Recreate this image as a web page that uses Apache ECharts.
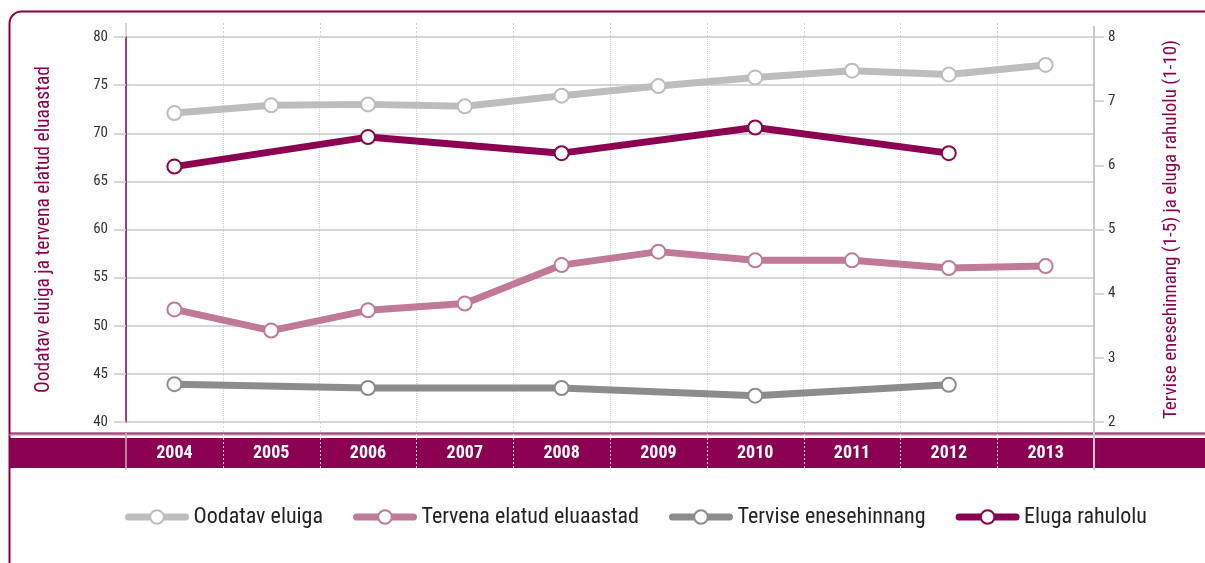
<!DOCTYPE html>
<html><head><meta charset="utf-8">
<script src="https://cdn.jsdelivr.net/npm/echarts@6/dist/echarts.min.js"></script>
<style>html,body{margin:0;padding:0;background:#fff}#c{width:1205px;height:563px}</style>
</head><body><div id="c"></div>
<script>
var years = ['2004','2005','2006','2007','2008','2009','2010','2011','2012','2013'];
var oodatavEluiga = [72.1, 72.9, 73.0, 72.8, 73.9, 74.9, 75.8, 76.5, 76.1, 77.1];
var tervenaElatud = [51.7, 49.5, 51.6, 52.3, 56.3, 57.7, 56.8, 56.8, 56.0, 56.2];
var terviseEnesehinnang = [2.59, null, 2.53, null, 2.53, null, 2.41, null, 2.58, null];
var elugaRahulolu = [5.98, null, 6.44, null, 6.19, null, 6.59, null, 6.19, null];
var seriesNames = ['Oodatav eluiga','Tervena elatud eluaastad','Tervise enesehinnang','Eluga rahulolu'];
var leftAxisName = 'Oodatav eluiga ja tervena elatud eluaastad';
var rightAxisName = 'Tervise enesehinnang (1-5) ja eluga rahulolu (1-10)';

var FONT = '"Roboto Condensed","Archivo Narrow",sans-serif';
var PURPLE = '#8b0050';
var GL = 126, GR = 1094, GT = 37, GB = 422;
var chart = echarts.init(document.getElementById('c'), null, {renderer:'canvas'});

var graphics = [];
graphics.push({type:'rect', z:-5, shape:{x:9.5,y:11.5,width:1300,height:700,r:[12,0,0,0]}, style:{fill:null, stroke:PURPLE, lineWidth:2}});
graphics.push({type:'rect', z:-5, shape:{x:9,y:432.5,width:1196,height:1.2}, style:{fill:PURPLE}});
graphics.push({type:'rect', z:-5, shape:{x:9,y:434,width:1196,height:1.5}, style:{fill:'#c07a98'}});
graphics.push({type:'rect', z:-5, shape:{x:9,y:438,width:1196,height:30}, style:{fill:PURPLE}});
var w = (GR-GL)/years.length;
for (var i=1;i<years.length;i++){
  var x = Math.round(GL + i*w)+0.5;
  graphics.push({type:'line', z:-4, shape:{x1:x,y1:23,x2:x,y2:GT}, style:{stroke:'#cfcfcf', lineWidth:1, lineDash:[2,2]}});
  graphics.push({type:'line', z:-4, shape:{x1:x,y1:GB,x2:x,y2:468}, style:{stroke:'#d8d8d8', lineWidth:1, lineDash:[2,2]}});
}
graphics.push({type:'line', z:-3, shape:{x1:GL,y1:23,x2:GL,y2:GT}, style:{stroke:'#c8c8c8', lineWidth:1.5, lineDash:null}});
graphics.push({type:'line', z:-3, shape:{x1:GL,y1:433,x2:GL,y2:470}, style:{stroke:'#b8b8b8', lineWidth:1.5, lineDash:null}});
graphics.push({type:'line', z:-3, shape:{x1:GR,y1:26,x2:GR,y2:470}, style:{stroke:'#c8c8c8', lineWidth:2, lineDash:null}});

function lineSeries(name, data, color, yIdx){
  return {
    name:name, type:'line', yAxisIndex:yIdx, data:data, connectNulls:true,
    symbol:'emptyCircle', symbolSize:14, showSymbol:true,
    lineStyle:{color:color, width:7, type:'solid', cap:'round', join:'round'},
    itemStyle:{color:color, borderColor:color, borderWidth:3, borderType:'solid'},
    emphasis:{disabled:true}, animation:false, z:5
  };
}

chart.setOption({
  animation:false,
  graphic:{elements:graphics},
  grid:{left:GL, right:1205-GR, top:GT, bottom:563-GB, containLabel:false},
  legend:{
    left:120, top:501, itemWidth:57, itemHeight:17, itemGap:30,
    lineStyle:{width:7, cap:'round'},
    itemStyle:{borderWidth:3},
    textStyle:{fontFamily:FONT, fontSize:22, color:'#222', padding:[0,0,0,3]},
    data:seriesNames
  },
  xAxis:{
    type:'category', data:years, boundaryGap:true, z:1,
    axisLine:{show:false}, axisTick:{show:false},
    axisLabel:{margin:22, color:'#fff', fontFamily:FONT, fontWeight:'bold', fontSize:18},
    splitLine:{show:true, lineStyle:{color:'#cfcfcf', type:'dotted', width:1}}
  },
  yAxis:[{
    type:'value', min:40, max:80, interval:5, position:'left', z:4,
    name:leftAxisName, nameLocation:'middle', nameRotate:90, nameGap:72,
    nameTextStyle:{color:PURPLE, fontFamily:FONT, fontSize:19.5},
    axisLine:{show:true, lineStyle:{color:PURPLE, width:1.5, type:'solid'}},
    axisTick:{show:true, inside:false, length:12, lineStyle:{color:'#c8c8c8', width:1.5, type:'solid'}},
    axisLabel:{color:'#333', fontFamily:FONT, fontSize:15, margin:18},
    splitLine:{show:true, lineStyle:{color:'#c8c8c8', width:1.5, type:'solid'}}
  },{
    type:'value', min:2, max:8, interval:1, position:'right', z:4,
    name:rightAxisName, nameLocation:'middle', nameRotate:90, nameGap:68,
    nameTextStyle:{color:PURPLE, fontFamily:FONT, fontSize:19},
    axisLine:{show:true, lineStyle:{color:'#c8c8c8', width:2, type:'solid'}},
    axisTick:{show:true, inside:false, length:10, lineStyle:{color:'#c8c8c8', width:1.5, type:'solid'}},
    axisLabel:{color:'#333', fontFamily:FONT, fontSize:15, margin:14},
    splitLine:{show:false}
  }],
  series:[
    lineSeries(seriesNames[0], oodatavEluiga, '#bdbdbd', 0),
    lineSeries(seriesNames[1], tervenaElatud, '#c07a98', 0),
    lineSeries(seriesNames[2], terviseEnesehinnang, '#8c8c8c', 1),
    lineSeries(seriesNames[3], elugaRahulolu, PURPLE, 1)
  ]
});
</script></body></html>
